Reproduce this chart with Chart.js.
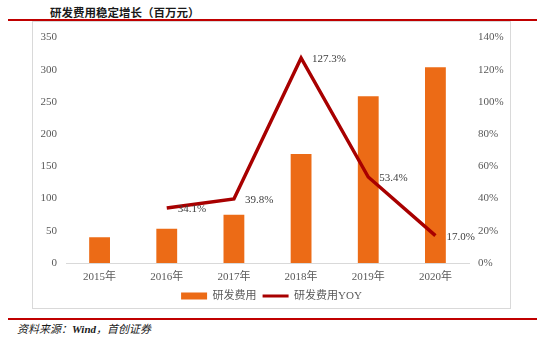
<!DOCTYPE html>
<html>
<head>
<meta charset="utf-8">
<script src="https://cdn.jsdelivr.net/npm/chart.js@4.4.1/dist/chart.umd.min.js"></script>
<style>
  html, body { margin: 0; padding: 0; background: #fff; }
  body { width: 543px; height: 340px; position: relative; overflow: hidden; }
  #title { position: absolute; left: 50px; top: 4px; font: 600 11.5px "Noto Sans CJK SC", sans-serif; color: #1a1a1a; white-space: nowrap; }
  .redline { position: absolute; left: 8px; width: 529px; height: 2px; background: #C00000; }
  #box { position: absolute; left: 32px; top: 21px; width: 479px; height: 288px; box-sizing: border-box; border: 1px solid #D9D9D9; pointer-events: none; }
  #c { position: absolute; left: 32px; top: 21px; }
  #source { position: absolute; left: 17px; top: 320px; font: italic 11px "Liberation Serif", "Noto Sans CJK SC", serif; color: #1a1a1a; white-space: nowrap; }
</style>
</head>
<body>
<div id="title">研发费用稳定增长（百万元）</div>
<div class="redline" style="top:19px"></div>
<canvas id="c" width="479" height="288"></canvas>
<div id="box"></div>
<div class="redline" style="top:318px"></div>
<div id="source">资料来源：<b>Wind</b>，首创证券</div>
<script>
const categories = ['2015年', '2016年', '2017年', '2018年', '2019年', '2020年'];
const rdExpense = [40, 53, 75, 169, 259, 304];
const rdYoY = [null, 34.1, 39.8, 127.3, 53.4, 17.0];
const seriesNames = ['研发费用', '研发费用YOY'];

const barColor = '#EC6B16';
const lineColor = '#A80000';
const tickFont = { family: '"Liberation Serif", "Noto Sans CJK SC", serif', size: 11 };

const pointLabels = {
  id: 'pointLabels',
  afterDatasetsDraw(chart) {
    const ctx = chart.ctx;
    const meta = chart.getDatasetMeta(1);
    ctx.save();
    ctx.font = '11px "Liberation Serif", serif';
    ctx.fillStyle = '#404040';
    ctx.textAlign = 'left';
    ctx.textBaseline = 'middle';
    meta.data.forEach((pt, i) => {
      const v = rdYoY[i];
      if (v === null || pt.skip) return;
      ctx.fillText(v.toFixed(1) + '%', pt.x + 11, pt.y + 1);
    });
    ctx.restore();
  }
};

new Chart(document.getElementById('c'), {
  type: 'bar',
  data: {
    labels: categories,
    datasets: [
      {
        type: 'bar',
        label: seriesNames[0],
        data: rdExpense,
        backgroundColor: barColor,
        borderWidth: 0,
        yAxisID: 'y',
        barPercentage: 0.31,
        categoryPercentage: 1.0,
        order: 1
      },
      {
        type: 'line',
        label: seriesNames[1],
        data: rdYoY,
        borderColor: lineColor,
        backgroundColor: lineColor,
        borderWidth: 3.5,
        pointRadius: 0,
        tension: 0,
        yAxisID: 'y1',
        order: 0
      }
    ]
  },
  options: {
    responsive: false,
    animation: false,
    layout: { padding: { top: 16.5, bottom: -2.5, left: 0, right: 0 } },
    plugins: {
      tooltip: { enabled: false },
      legend: {
        position: 'bottom',
        labels: {
          usePointStyle: true,
          pointStyleWidth: 26,
          boxHeight: 7,
          padding: 6,
          color: '#595959',
          font: tickFont,
          sort: (a, b) => a.datasetIndex - b.datasetIndex,
          generateLabels(chart) {
            const items = Chart.defaults.plugins.legend.labels.generateLabels(chart);
            items.forEach(it => {
              if (it.datasetIndex === 0) {
                it.pointStyle = 'rect';
                it.fillStyle = barColor;
                it.strokeStyle = barColor;
                it.lineWidth = 0;
              } else {
                it.pointStyle = 'line';
                it.strokeStyle = lineColor;
                it.lineWidth = 3;
              }
            });
            return items;
          }
        }
      }
    },
    scales: {
      x: {
        grid: { display: false },
        border: { display: true, color: '#D9D9D9', width: 1 },
        ticks: { color: '#595959', font: tickFont, padding: 0, maxRotation: 0 },
        afterFit(s) { s.height = 21.5; }
      },
      y: {
        position: 'left',
        min: 0, max: 350,
        grid: { display: false },
        border: { display: false },
        ticks: { stepSize: 50, color: '#595959', font: tickFont, padding: 1 },
        afterFit(s) { s.width = 34; }
      },
      y1: {
        position: 'right',
        min: 0, max: 140,
        grid: { display: false },
        border: { display: false },
        ticks: { stepSize: 20, color: '#595959', font: tickFont, padding: 1, callback: v => v + '%' },
        afterFit(s) { s.width = 42; }
      }
    }
  },
  plugins: [pointLabels]
});
</script>
</body>
</html>
